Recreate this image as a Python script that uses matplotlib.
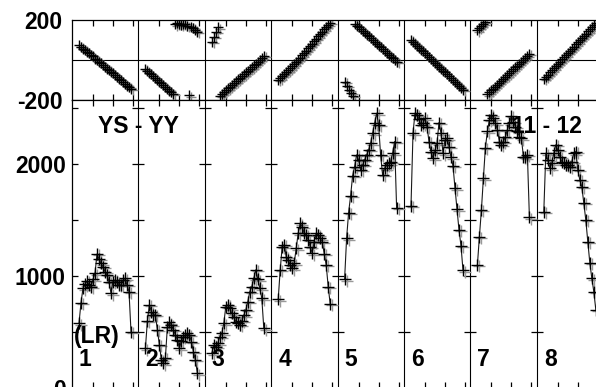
import matplotlib
matplotlib.use("Agg")
import matplotlib.pyplot as plt
from matplotlib.transforms import blended_transform_factory, ScaledTranslation

# ---------------- data ----------------
log_period = [-0.7, -0.6, -0.5, -0.4, -0.3, -0.2, -0.1, 0.0, 0.1, 0.2, 0.3, 0.4, 0.5, 0.6,
              0.7, 0.8, 0.9, 1.0, 1.1, 1.2, 1.3, 1.4, 1.5, 1.6, 1.7, 1.8, 1.9]

amp_1 = [578, 762, 890, 926, 955, 920, 905, 970, 1024, 1195, 1152, 1113, 1083, 1039, 1009,
         949, 845, 949, 964, 949, 920, 920, 964, 979, 920, 860, 503]
amp_2 = [354, 600, 741, 681, 652, 652, 518, 384, 250, 220, 271, 548, 586, 563, 518, 473,
         429, 354, 420, 458, 473, 488, 473, 414, 324, 250, 130]
amp_3 = [310, 384, 369, 399, 458, 488, 577, 726, 741, 711, 667, 637, 592, 577, 563, 600,
         650, 696, 771, 860, 905, 979, 1054, 970, 890, 801, 533]
amp_4 = [792, 1054, 1262, 1277, 1173, 1143, 1098, 1068, 1113, 1247, 1381, 1470, 1440, 1381,
         1366, 1321, 1262, 1203, 1306, 1381, 1366, 1336, 1306, 1200, 1098, 905, 750]
amp_5 = [970, 1336, 1565, 1714, 1893, 1976, 2080, 2036, 1946, 1991, 2036, 2080, 2125, 2185,
         2274, 2363, 2452, 2348, 2080, 1902, 1961, 1991, 2006, 2021, 2095, 2199, 1610]
amp_6 = [1625, 2274, 2452, 2438, 2400, 2348, 2363, 2408, 2333, 2199, 2110, 2051, 2120, 2185,
         2369, 2274, 2095, 2214, 2229, 2155, 2060, 1982, 1783, 1595, 1411, 1268, 1050]
amp_7 = [1098, 1351, 1589, 1872, 2146, 2290, 2393, 2438, 2408, 2363, 2304, 2199, 2170, 2199,
         2244, 2304, 2363, 2429, 2378, 2333, 2289, 2244, 2229, 2065, 2060, 2080, 1524]
amp_8 = [1574, 2095, 2036, 1961, 2006, 2095, 2170, 2125, 2065, 2021, 2006, 1991, 1991, 1976,
         2021, 2095, 2110, 1946, 1857, 1797, 1650, 1500, 1306, 1119, 980, 860, 700]

phase_1 = [74, 67, 57, 51, 40, 34, 24, 18, 7, 1, -9, -16, -26, -33, -43, -50, -60, -67,
           -77, -84, -94, -101, -111, -118, -128, -135, -145]
phase_2 = [-45, -54, -63, -72, -81, -90, -99, -108, -117, -126, -135, -144, -153, -162, -170,
           178, 183, 180, 176, 182, 178, 172, -176, 165, 160, 150, 141]
phase_3 = [90, 115, 141, 163, -178, -168, -160, -150, -142, -134, -124, -115, -106, -97, -88,
           -80, -71, -62, -53, -45, -36, -27, -18, -10, 0, 10, 22]
phase_4 = [-100, -92, -80, -70, -60, -52, -42, -32, -22, -10, 0, 12, 24, 35, 47, 58, 70, 82,
           94, 106, 118, 130, 142, 154, 165, 176, 185]
phase_5 = [-108, -128, -148, -165, -180, 182, 172, 163, 154, 145, 136, 127, 118, 108, 99, 90,
           81, 72, 63, 54, 44, 35, 26, 17, 8, -1, -8]
phase_6 = [100, 91, 81, 72, 62, 52, 43, 33, 24, 14, 4, -5, -15, -24, -34, -44, -53, -62, -72,
           -82, -91, -101, -110, -120, -130, -140, -150]
phase_7 = [149, 160, 171, 182, 191, -172, -162, -152, -143, -133, -124, -114, -104, -95, -85,
           -76, -66, -56, -47, -37, -28, -18, -8, 1, 11, 20, 30]
phase_8 = [-95, -84, -73, -62, -52, -41, -30, -19, -8, 3, 13, 24, 35, 46, 57, 67, 78, 89, 100,
           111, 121, 132, 143, 154, 164, 175, 186]

amps = [amp_1, amp_2, amp_3, amp_4, amp_5, amp_6, amp_7, amp_8]
phases = [phase_1, phase_2, phase_3, phase_4, phase_5, phase_6, phase_7, phase_8]
seg_labels = ["1", "2", "3", "4", "5", "6", "7", "8"]
decade_ticks = [0, 1, 2]

# ---------------- layout ----------------
SEG_W = 3.32      # width of one segment in log10(period) units
X_SHIFT = 1.05    # offset of log10(T)=0 from segment start
N_SEG = 8

plt.rcParams["font.family"] = ["Liberation Sans", "DejaVu Sans"]
plt.rcParams["font.weight"] = "bold"
FS = 16.5

fig = plt.figure(figsize=(5.96, 3.87), dpi=100)
W_PX, H_PX = 596.0, 387.0
left = 72 / W_PX
width = 531.2 / W_PX
ax_p = fig.add_axes([left, 1 - 100 / H_PX, width, 80 / H_PX])
ax_a = fig.add_axes([left, 1 - 388 / H_PX, width, 288 / H_PX])

xmax = N_SEG * SEG_W


def seg_x(k):
    return [k * SEG_W + X_SHIFT + v for v in log_period]


xt = [k * SEG_W + X_SHIFT + d for k in range(N_SEG) for d in decade_ticks]

for ax in (ax_p, ax_a):
    ax.set_xlim(0, xmax)
    for s in ax.spines.values():
        s.set_linewidth(0.9)
        s.set_color("black")
    ax.set_xticks(xt)
    ax.tick_params(axis="x", which="both", direction="in", top=True, bottom=True,
                   length=4, width=0.9, labelbottom=False, labeltop=False)
    for k in range(1, N_SEG):
        ax.axvline(k * SEG_W, color="black", lw=0.8, zorder=1)

ghost_p = ax_p.transData + ScaledTranslation(1.5 / 72, -1.0 / 72, fig.dpi_scale_trans)
ghost_a = ax_a.transData + ScaledTranslation(1.5 / 72, -1.0 / 72, fig.dpi_scale_trans)

# phase panel
ax_p.set_ylim(-200, 200)
ax_p.set_yticks([-200, 200])
ax_p.set_yticklabels(["-200", "200"], fontsize=FS, fontweight="bold")
ax_p.tick_params(axis="y", length=0, pad=7)
ax_p.axhline(0, color="black", lw=0.8, zorder=1)
for k in range(N_SEG):
    ax_p.plot(seg_x(k), phases[k], ls="none", marker="+", ms=7, mew=1.0,
              color="#8a8a8a", zorder=2, transform=ghost_p)
    ax_p.plot(seg_x(k), phases[k], ls="none", marker="+", ms=7, mew=1.0,
              color="black", zorder=3)

# amplitude panel
ax_a.set_ylim(0, 2570)
ax_a.set_yticks([0, 1000, 2000])
ax_a.set_yticklabels(["0", "1000", "2000"], fontsize=FS, fontweight="bold")
ax_a.set_yticks([500, 1500, 2500], minor=True)
ax_a.tick_params(axis="y", which="both", direction="in", length=4.5, width=0.9, pad=4.5)
sep_y = [500, 1000, 1500, 2000, 2500]
for k in range(1, N_SEG):
    ax_a.plot([k * SEG_W] * len(sep_y), sep_y, ls="none", marker="_", ms=9, mew=0.9,
              color="black", zorder=2)
for k in range(N_SEG):
    ax_a.plot(seg_x(k), amps[k], ls="none", marker="+", ms=8, mew=1.0,
              color="#999999", zorder=2, transform=ghost_a)
    ax_a.plot(seg_x(k), amps[k], color="#1a1a1a", lw=0.8, marker="+", ms=8, mew=1.0,
              mec="black", zorder=3)

tr = blended_transform_factory(ax_a.transData, ax_a.transAxes)
ax_a.text(SEG_W, (388 - 133) / 288, "YS - YY", transform=tr, ha="center", va="baseline",
          fontsize=FS, fontweight="bold", zorder=2)
ax_a.text(7 * SEG_W + 0.5, (388 - 133) / 288, "11 - 12", transform=tr, ha="center",
          va="baseline", fontsize=FS, fontweight="bold", zorder=2)
ax_a.text(0.08, (388 - 342.5) / 288, "(LR)", transform=tr, ha="left", va="baseline",
          fontsize=FS, fontweight="bold", zorder=2)
for k in range(N_SEG):
    ax_a.text(k * SEG_W + 0.35, (388 - 366) / 288, seg_labels[k], transform=tr, ha="left",
              va="baseline", fontsize=FS, fontweight="bold", zorder=2)

fig.savefig("out.png", dpi=100)
